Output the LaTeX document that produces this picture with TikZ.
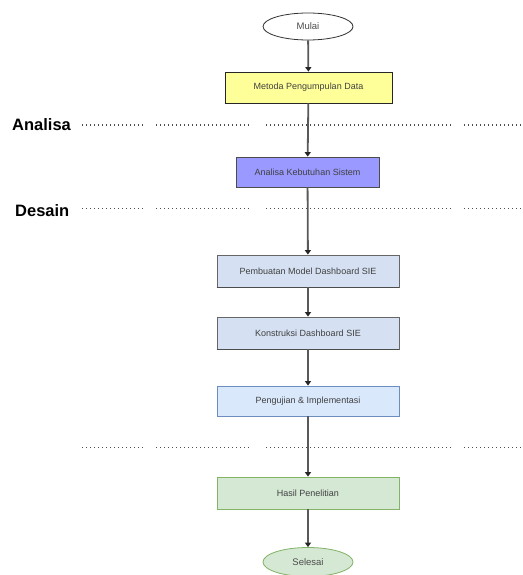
\documentclass[tikz,border=0pt]{standalone}
\usepackage{fontspec}
\setmainfont{Liberation Sans}
\usetikzlibrary{shapes.geometric,arrows.meta}
\definecolor{lineg}{HTML}{595959}
\definecolor{yel}{HTML}{FFFF99}
\definecolor{vio}{HTML}{9999FF}
\definecolor{lblue}{HTML}{D5E1F2}
\definecolor{lblue2}{HTML}{DAE8FC}
\definecolor{bblue}{HTML}{6C8EBF}
\definecolor{lgreen}{HTML}{D5E8D4}
\definecolor{bgreen}{HTML}{82B366}
\tikzset{
  px/.style={x=1pt,y=-1pt},
  procbox/.style={draw, line width=0.8pt, minimum height=31pt, inner sep=0pt, font=\fontsize{9}{10}\selectfont, text=black!75},
  termnode/.style={ellipse, draw, line width=0.8pt, minimum width=90pt, minimum height=27pt, inner sep=0pt, font=\fontsize{9.5}{11}\selectfont, text=black!70},
  flow/.style={draw=lineg, line width=1.8pt, -{Triangle[length=4.5pt,width=6pt,color=black!85]}},
  sep/.style={draw=black!70, line width=1pt, dash pattern=on 1pt off 3pt},
  phase/.style={font=\bfseries\fontsize{16.5}{18}\selectfont, anchor=west, inner sep=0pt}
}
\begin{document}
\begin{tikzpicture}[px]
\useasboundingbox (0,0) rectangle (522,575);
\clip (0,0) rectangle (522,575);
\fill[white] (0,0) rectangle (522,575);
% nodes
\node[termnode, fill=white, draw=black!80] (mulai) at (308,26.5) {Mulai};
\node[procbox, fill=yel, draw=black!85, minimum width=167pt] (metoda) at (308.5,87.5) {Metoda Pengumpulan Data};
\node[procbox, fill=vio, draw=black!70, minimum width=143pt, minimum height=30pt] (keb) at (307.5,172) {Analisa Kebutuhan Sistem};
\node[procbox, fill=lblue, draw=black!60, minimum width=182pt, minimum height=32pt] (model) at (308,271) {Pembuatan Model Dashboard SIE};
\node[procbox, fill=lblue, draw=black!60, minimum width=182pt, minimum height=32pt] (konst) at (308,333) {Konstruksi Dashboard SIE};
\node[procbox, fill=lblue2, draw=bblue, minimum width=182pt, minimum height=30pt] (uji) at (308,401) {Pengujian \& Implementasi};
\node[procbox, fill=lgreen, draw=bgreen, minimum width=182pt, minimum height=32pt] (hasil) at (308,493) {Hasil Penelitian};
\node[termnode, fill=lgreen, draw=bgreen, minimum height=29pt] (selesai) at (308,562) {Selesai};
% bottom shadows
\draw[black!85, line width=1.6pt] (metoda.south west) -- (metoda.south east);
\draw[black!70, line width=1.4pt] (model.south west) -- (model.south east);
\draw[black!70, line width=1.4pt] (konst.south west) -- (konst.south east);
\draw[bgreen, line width=1.6pt] (hasil.south west) -- (hasil.south east);
% phase labels
\node[phase] (analisa) at (12,125) {Analisa};
\node[phase] (desain) at (15,211) {Desain};
% separators
\foreach \y in {125,208,447}{
  \draw[sep] (82,\y) -- (143,\y);
  \draw[sep] (156,\y) -- (250,\y);
  \draw[sep] (266,\y) -- (452,\y);
  \draw[sep] (464,\y) -- (522,\y);
}
% flow
\draw[flow] (mulai) -- (metoda);
\draw[flow] (metoda) -- (keb);
\draw[flow] (keb) -- (model);
\draw[flow] (model) -- (konst);
\draw[flow] (konst) -- (uji);
\draw[flow] (uji) -- (hasil);
\draw[flow] (hasil) -- (selesai);
\end{tikzpicture}
\end{document}
